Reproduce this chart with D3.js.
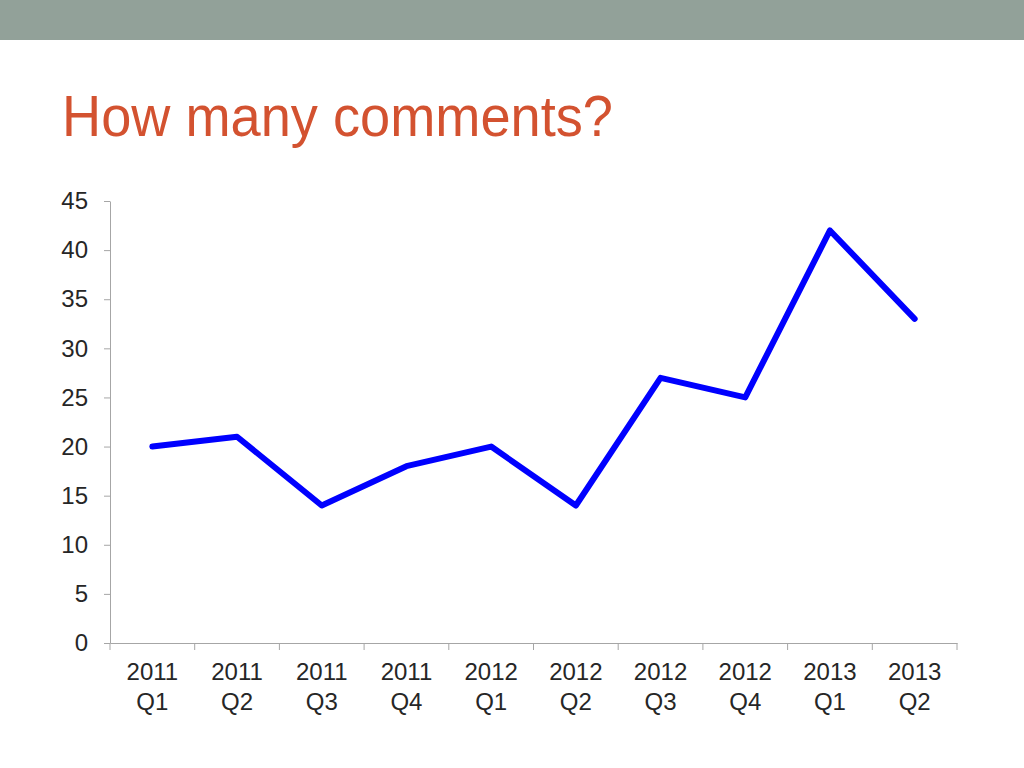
<!DOCTYPE html>
<html><head><meta charset="utf-8">
<script src="https://cdn.jsdelivr.net/npm/d3@7"></script>
<style>body{margin:0;background:#fff;}svg{display:block;}</style>
</head><body>
<svg id="c" width="1024" height="768"></svg>
<script>
const categories = ["2011 Q1","2011 Q2","2011 Q3","2011 Q4","2012 Q1","2012 Q2","2012 Q3","2012 Q4","2013 Q1","2013 Q2"];
const values = [20,21,14,18,20,14,27,25,42,33];
const yTicks = [0,5,10,15,20,25,30,35,40,45];

const svg = d3.select("#c");
svg.append("rect").attr("x",0).attr("y",0).attr("width",1024).attr("height",40).attr("fill","#92a199");
svg.append("text").attr("x",62).attr("y",136).text("How many comments?")
  .attr("font-family","Liberation Sans, Arial, sans-serif").attr("font-size",57).attr("fill","#d35230")
  .attr("textLength",551).attr("lengthAdjust","spacingAndGlyphs");

const x = d3.scaleBand().domain(categories).range([110,957]);
const y = d3.scaleLinear().domain([0,45]).range([643,201]);

const yAxis = svg.append("g").attr("transform","translate(110,0)")
  .call(d3.axisLeft(y).tickValues(yTicks).tickSize(6).tickPadding(6).tickSizeOuter(0));
yAxis.select(".domain").attr("stroke","#a6a6a6");
yAxis.selectAll(".tick line").attr("stroke","#a6a6a6");
yAxis.selectAll("text").attr("font-family","Liberation Sans, Arial, sans-serif").attr("font-size",24).attr("fill","#262626").attr("x",-22);

const xAxis = svg.append("g").attr("transform","translate(0,643)")
  .call(d3.axisBottom(x).tickSize(0).tickFormat(""));
xAxis.select(".domain").attr("stroke","#a6a6a6");
const bounds = categories.map(c=>x(c)).concat([x(categories[categories.length-1])+x.bandwidth()]);
xAxis.selectAll(".bnd").data(bounds).join("line").attr("class","bnd")
  .attr("x1",d=>d).attr("x2",d=>d).attr("y1",0).attr("y2",7).attr("stroke","#a6a6a6");
const lab = xAxis.selectAll(".lab").data(categories).join("text").attr("class","lab")
  .attr("font-family","Liberation Sans, Arial, sans-serif").attr("font-size",24).attr("fill","#262626")
  .attr("text-anchor","middle");
lab.append("tspan").attr("x",d=>x(d)+x.bandwidth()/2).attr("y",37).text(d=>d.split(" ")[0]);
lab.append("tspan").attr("x",d=>x(d)+x.bandwidth()/2).attr("y",67).text(d=>d.split(" ")[1]);

const line = d3.line().x((d,i)=>x(categories[i])+x.bandwidth()/2).y(d=>y(d));
svg.append("path").datum(values).attr("d",line).attr("fill","none")
  .attr("stroke","#0000ff").attr("stroke-width",6).attr("stroke-linejoin","round").attr("stroke-linecap","round");
</script>
</body></html>
